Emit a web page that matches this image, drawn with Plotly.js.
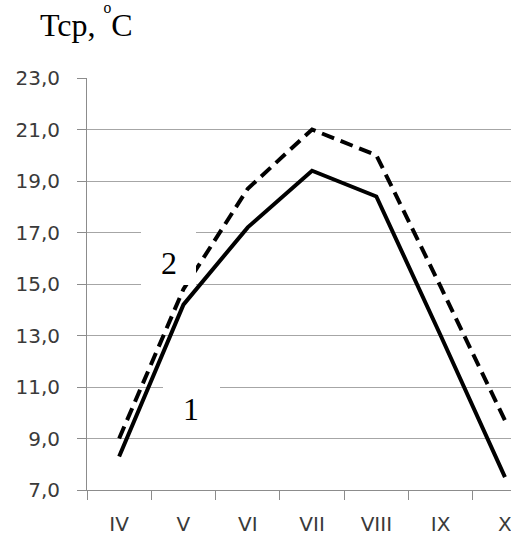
<!DOCTYPE html>
<html>
<head>
<meta charset="utf-8">
<script src="https://cdn.plot.ly/plotly-3.0.1.min.js"></script>
<style>html,body{margin:0;padding:0;background:#fff;}#chart{width:511px;height:536px;}</style>
</head>
<body>
<div id="chart"></div>
<script>
var months = ['IV', 'V', 'VI', 'VII', 'VIII', 'IX', 'X'];
var series1 = [8.3, 14.2, 17.2, 19.4, 18.4, 13.0, 7.5];
var series2 = [9.0, 14.8, 18.7, 21.0, 20.0, 14.9, 9.7];
var yTicks = [7, 9, 11, 13, 15, 17, 19, 21, 23];
var yTickLabels = ['7,0', '9,0', '11,0', '13,0', '15,0', '17,0', '19,0', '21,0', '23,0'];
var titleText = 'Tcp, <sup><sup>o</sup></sup>C';
var label1 = '1';
var label2 = '2';

var traces = [
  {x: months, y: series2, type: 'scatter', mode: 'lines',
   line: {color: '#000', width: 4, dash: '13px,7px'}, hoverinfo: 'skip'},
  {x: months, y: series1, type: 'scatter', mode: 'lines',
   line: {color: '#000', width: 4}, hoverinfo: 'skip'}
];

var tickFont = {family: 'DejaVu Sans', size: 20, color: '#3a3a3a'};
var serif = {family: 'Liberation Serif', size: 32, color: '#000'};

function px(x) { return (x - 87) / 424; }
function py(y) { return (490 - y) / 412; }

var layout = {
  width: 511, height: 536,
  margin: {l: 87, r: 0, t: 78, b: 46, pad: 0},
  paper_bgcolor: '#fff', plot_bgcolor: '#fff',
  showlegend: false,
  title: {text: titleText, font: serif, x: 40/511, xanchor: 'left',
          xref: 'container', yref: 'container', y: 1 - 25/536, yanchor: 'middle'},
  xaxis: {type: 'category', range: [-0.5, 6.094], showgrid: false,
          showline: true, linecolor: '#8c8c8c', linewidth: 1,
          ticks: 'outside', tickson: 'boundaries', ticklen: 9, tickcolor: '#8c8c8c',
          ticklabelstandoff: 16,
          tickfont: tickFont, zeroline: false, fixedrange: true},
  yaxis: {range: [7, 23], tickvals: yTicks, ticktext: yTickLabels,
          showgrid: true, gridcolor: '#a6a6a6', gridwidth: 1,
          showline: true, linecolor: '#8c8c8c', linewidth: 1,
          ticks: 'outside', ticklen: 9, tickcolor: '#8c8c8c',
          ticklabelstandoff: 13,
          tickfont: tickFont, zeroline: false, fixedrange: true},
  shapes: [
    {type: 'rect', xref: 'paper', yref: 'paper', layer: 'above',
     x0: px(141), x1: px(196), y0: py(285), y1: py(232),
     fillcolor: '#fff', line: {width: 0}},
    {type: 'rect', xref: 'paper', yref: 'paper', layer: 'above',
     x0: px(163), x1: px(220), y0: py(432), y1: py(378),
     fillcolor: '#fff', line: {width: 0}}
  ],
  annotations: [
    {text: label2, xref: 'paper', yref: 'paper', x: px(169), y: py(263),
     xanchor: 'center', yanchor: 'middle', showarrow: false, font: serif},
    {text: label1, xref: 'paper', yref: 'paper', x: px(190.5), y: py(409),
     xanchor: 'center', yanchor: 'middle', showarrow: false, font: serif}
  ]
};

Plotly.newPlot('chart', traces, layout, {staticPlot: true, displayModeBar: false});
</script>
</body>
</html>
